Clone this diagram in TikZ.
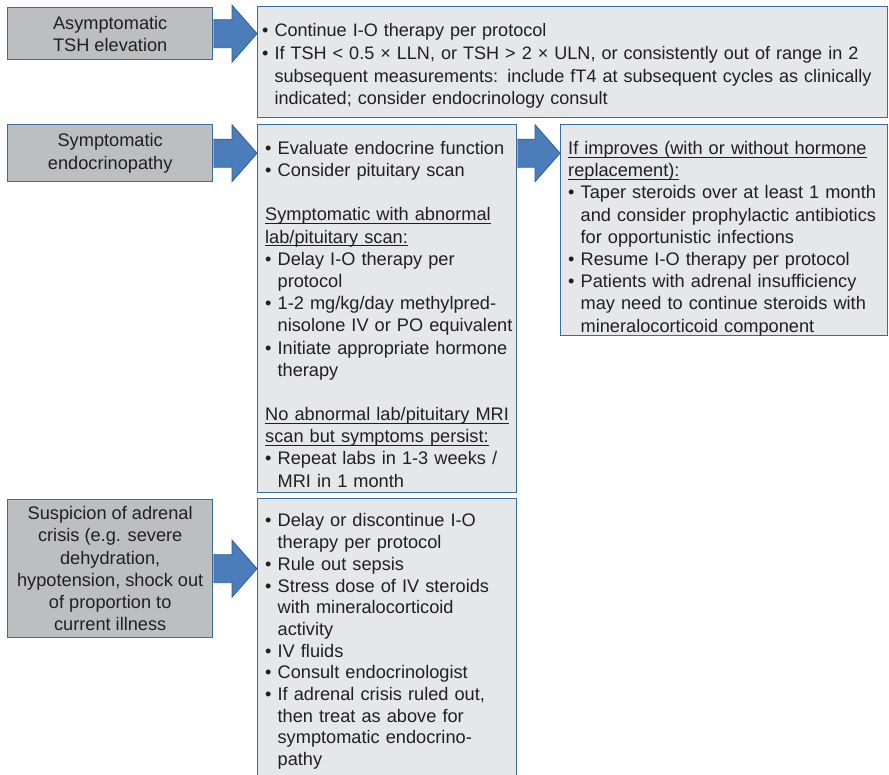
\documentclass[tikz,border=0pt]{standalone}
\usepackage{fontspec}
\setmainfont{Liberation Sans}
\usetikzlibrary{calc}

\definecolor{leftfill}{HTML}{BCBEC0}
\definecolor{rightfill}{HTML}{E6E7E8}
\definecolor{boxline}{HTML}{3B6C9E}
\definecolor{arrowfill}{HTML}{4A7DBA}
\definecolor{arrowline}{HTML}{2F5E93}
\definecolor{ink}{HTML}{231F20}

% text helpers
\newsavebox{\bulbox}
\newsavebox{\ulbox}
\newcommand{\sizedfont}[2]{\fontsize{#1}{#2}\selectfont\hyphenpenalty=10000\relax}
\newcommand{\bodyfont}[1]{\sizedfont{18.2pt}{#1}}
\newcommand{\fl}{\rule{0pt}{14pt}}                 % fixes the height of a first line
\newcommand{\nl}{\hfil\break}                      % forced line break
\newcommand{\gap}{\par\vskip 22pt}                 % one empty line
\newcommand{\bitem}{\par\sbox{\bulbox}{\textbullet\ }\hangindent=\wd\bulbox\hangafter=1\relax\noindent\usebox{\bulbox}}
\newcommand{\ulx}[1]{\sbox{\ulbox}{#1}\rlap{\rule[-3pt]{\wd\ulbox}{0.9pt}}\usebox{\ulbox}}

% block arrow from a start point to a tip point, axis at the start's height
\newcommand{\blockarrow}[2]{%
  \filldraw[blockarr] let \p1=(#1), \p2=(#2) in
    (\x1,\y1+14pt) -- (\x2-25pt,\y1+14pt) -- (\x2-25pt,\y1+28.5pt) -- (\x2,\y1)
    -- (\x2-25pt,\y1-28.5pt) -- (\x2-25pt,\y1-14pt) -- (\x1,\y1-14pt);}

\begin{document}
\begin{tikzpicture}[x=1pt,y=-1pt, text=ink,
  lbox/.style={draw=boxline, line width=1.4pt, fill=leftfill, anchor=north west,
    align=center, inner sep=0pt, font=\bodyfont{22.2pt}},
  rbox/.style={draw=boxline, line width=1.4pt, fill=rightfill, anchor=north west, inner sep=0pt},
  body/.style={anchor=north west, inner sep=0pt, align=left, font=\bodyfont{22.2pt}},
  blockarr/.style={fill=arrowfill, draw=arrowline, line width=0.8pt, line join=miter}]

\useasboundingbox (0,0) rectangle (889,774);
\clip (0,0) rectangle (889,774);

% row 1: asymptomatic TSH elevation
\node[lbox, minimum width=205, minimum height=52] (lb1) at (7,7) {Asymptomatic\\TSH elevation};
\node[rbox, minimum width=630, minimum height=111] (rb1) at (257,6) {};
\node[body, text width=640, font=\sizedfont{18.05pt}{22.6pt}] (t1) at ($(rb1.north west)+(5,8)$) {%
  \bitem\fl Continue I-O therapy per protocol
  \bitem If TSH < 0.5 × LLN, or TSH > 2 × ULN, or consistently out of range in 2\nl
  subsequent measurements: include fT4 at subsequent cycles as clinically\nl
  indicated; consider endocrinology consult\par};

% row 2: symptomatic endocrinopathy
\node[lbox, minimum width=205, minimum height=57] (lb2) at (7,124) {Symptomatic\\endocrinopathy};
\node[rbox, minimum width=259, minimum height=368] (mb) at (257,124) {};
\node[rbox, minimum width=327, minimum height=211] (rb2) at (560,124) {};
\node[body, text width=275, font=\bodyfont{22.2pt}] (t2) at ($(mb.north west)+(8,8)$) {%
  \bitem\fl Evaluate endocrine function
  \bitem Consider pituitary scan
  \gap
  \par\noindent\ulx{Symptomatic with abnormal}\nl\ulx{lab/pituitary scan:}
  \bitem Delay I-O therapy per\nl protocol
  \bitem 1-2 mg/kg/day methylpred-\nl nisolone IV or PO equivalent
  \bitem Initiate appropriate hormone\nl therapy
  \gap
  \par\noindent\ulx{No abnormal lab/pituitary MRI}\nl\ulx{scan but symptoms persist:}
  \bitem Repeat labs in 1-3 weeks /\nl MRI in 1 month\par};
\node[body, text width=330, font=\bodyfont{22.2pt}] (t3) at ($(rb2.north west)+(8,8)$) {%
  \par\noindent\fl\ulx{If improves (with or without hormone}\nl\ulx{replacement):}
  \bitem Taper steroids over at least 1 month\nl and consider prophylactic antibiotics\nl for opportunistic infections
  \bitem Resume I-O therapy per protocol
  \bitem Patients with adrenal insufficiency\nl may need to continue steroids with\nl mineralocorticoid component\par};

% row 3: suspicion of adrenal crisis
\node[lbox, minimum width=205, minimum height=138] (lb3) at (7,499)
  {Suspicion of adrenal\\crisis (e.g. severe\\dehydration,\\hypotension, shock out\\of proportion to\\current illness};
\node[rbox, minimum width=259, minimum height=300] (bb) at (257,498) {};
\node[body, text width=275, font=\bodyfont{21.7pt}] (t4) at ($(bb.north west)+(8,7)$) {%
  \bitem\fl Delay or discontinue I-O\nl therapy per protocol
  \bitem Rule out sepsis
  \bitem Stress dose of IV steroids\nl with mineralocorticoid\nl activity
  \bitem IV fluids
  \bitem Consult endocrinologist
  \bitem If adrenal crisis ruled out,\nl then treat as above for\nl symptomatic endocrino-\nl pathy\par};

% connectors
\blockarrow{lb1.east}{rb1.west |- lb1.east}
\blockarrow{lb2.east}{mb.west |- lb2.east}
\blockarrow{mb.east |- lb2.east}{rb2.west |- lb2.east}
\blockarrow{lb3.east}{bb.west |- lb3.east}
\end{tikzpicture}
\end{document}
